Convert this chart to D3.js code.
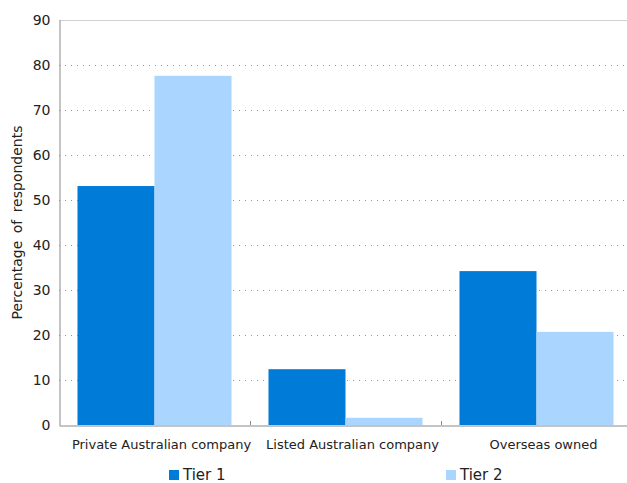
<!DOCTYPE html>
<html>
<head>
<meta charset="utf-8">
<script src="https://cdn.jsdelivr.net/npm/d3@7"></script>
<style>
  html, body { margin: 0; padding: 0; background: #fff; }
  svg { display: block; font-family: "DejaVu Sans", Verdana, sans-serif; }
</style>
</head>
<body>
<svg id="chart" width="627" height="483"></svg>
<script>
// Ownership structure of respondents, by tier
const categories = ["Private Australian company", "Listed Australian company", "Overseas owned"];
const seriesNames = ["Tier 1", "Tier 2"];
const tier1 = [53.1, 12.4, 34.2];
const tier2 = [77.6, 1.6, 20.7];
const yTicks = [0, 10, 20, 30, 40, 50, 60, 70, 80, 90];
const colors = ["#007bd8", "#a9d5ff"];

const svg = d3.select("#chart");
const margin = { left: 59, top: 20, right: -5, bottom: 58 };
const W = 627, H = 483;
const plotRight = W - margin.right;
const plotBottom = H - margin.bottom;

const x = d3.scaleBand().domain(categories).range([margin.left, plotRight]).paddingInner(0).paddingOuter(0);
const inner = d3.scaleBand().domain(seriesNames).range([0, x.bandwidth()]).paddingOuter(0.24).paddingInner(0);
const y = d3.scaleLinear().domain([0, 90]).range([plotBottom, margin.top]);

// gridlines
svg.append("g").selectAll("line").data(yTicks.filter(d => d > 0)).join("line")
  .attr("x1", margin.left).attr("x2", plotRight)
  .attr("y1", d => y(d) + 0.5).attr("y2", d => y(d) + 0.5)
  .attr("stroke", "#999").attr("stroke-width", 1)
  .attr("stroke-dasharray", d => d === 90 ? null : "1,5")
  .attr("stroke-opacity", d => d === 90 ? 0.45 : 1);

// bars
const rows = categories.map((c, i) => ({ c, vals: [tier1[i], tier2[i]] }));
const groups = svg.append("g").selectAll("g").data(rows).join("g")
  .attr("transform", d => `translate(${x(d.c)},0)`);
groups.selectAll("rect").data(d => d.vals.map((v, j) => ({ v, s: seriesNames[j], j }))).join("rect")
  .attr("x", d => inner(d.s))
  .attr("width", inner.bandwidth())
  .attr("y", d => y(d.v))
  .attr("height", d => y(0) - y(d.v))
  .attr("fill", d => colors[d.j]);

// y axis
const yAxis = svg.append("g").attr("transform", `translate(${margin.left + 0.5},0)`)
  .call(d3.axisLeft(y).tickValues(yTicks).tickSize(0).tickPadding(9));
yAxis.select(".domain").attr("stroke", "#888");
yAxis.selectAll("text").attr("font-size", 14).attr("fill", "#222")
  .attr("font-family", "DejaVu Sans, Verdana, sans-serif");

// x axis
const xAxis = svg.append("g").attr("transform", `translate(0,${plotBottom + 0.5})`)
  .call(d3.axisBottom(x).tickSize(0).tickPadding(14));
xAxis.select(".domain").attr("stroke", "#888");
xAxis.selectAll("text").attr("font-size", 13).attr("fill", "#222")
  .attr("dx", 7)
  .attr("font-family", "DejaVu Sans, Verdana, sans-serif");
// separators between categories
svg.append("g").selectAll("line").data(categories.slice(1)).join("line")
  .attr("x1", d => Math.round(x(d)) + 0.5).attr("x2", d => Math.round(x(d)) + 0.5)
  .attr("y1", plotBottom - 4).attr("y2", plotBottom)
  .attr("stroke", "#888");

// y axis title
svg.append("text")
  .attr("transform", `translate(22,${(margin.top + plotBottom) / 2}) rotate(-90)`)
  .attr("text-anchor", "middle")
  .attr("font-size", 14).attr("fill", "#222")
  .style("word-spacing", "3px")
  .text("Percentage of respondents");

// legend
const legendX = [169, 446];
const lg = svg.append("g").selectAll("g").data(seriesNames).join("g")
  .attr("transform", (d, i) => `translate(${legendX[i]},470)`);
lg.append("rect").attr("width", 10).attr("height", 10).attr("fill", (d, i) => colors[i]);
lg.append("text").attr("x", 14).attr("y", 10).attr("font-size", 15).attr("fill", "#222").text(d => d);
</script>
</body>
</html>
